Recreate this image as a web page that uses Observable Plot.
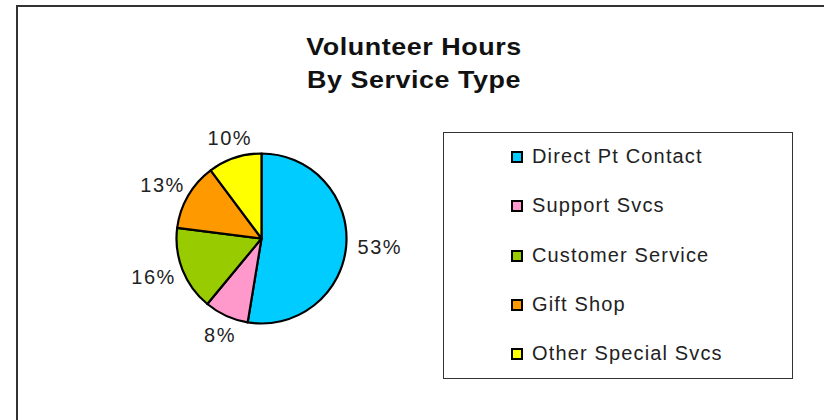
<!DOCTYPE html>
<html>
<head>
<meta charset="utf-8">
<script src="https://cdn.jsdelivr.net/npm/d3@7"></script>
<script src="https://cdn.jsdelivr.net/npm/@observablehq/plot@0.6"></script>
<style>
  html, body { margin: 0; padding: 0; background: #fff; }
  #wrap { position: relative; width: 824px; height: 420px; overflow: hidden; background: #fff;
          font-family: "Liberation Sans", Arial, sans-serif; }
  #frame { position: absolute; left: 15.5px; top: 5px; width: 1000px; height: 1000px;
           border-left: 2px solid #333; border-top: 2px solid #333; box-sizing: border-box; }
  #title { position: absolute; left: 0; top: 29.5px; width: 828px; text-align: center;
           font-weight: bold; font-size: 24px; line-height: 33px; letter-spacing: 0.5px; color: #111;
           transform: scaleX(1.12); transform-origin: 414px 0; }
  #chart { position: absolute; left: 0; top: 100px; }
  #legend { position: absolute; left: 442.5px; top: 132px; width: 350px; height: 247px;
            border: 1.5px solid #333; box-sizing: border-box; }
  .row { position: absolute; left: 0; height: 0; }
  .sw { position: absolute; width: 12px; height: 12px; border: 2px solid #000; box-sizing: border-box; }
  .lt { position: absolute; white-space: nowrap; font-size: 20px; line-height: 20px;
        letter-spacing: 1.15px; color: #222; }
</style>
</head>
<body>
<div id="wrap">
  <div id="frame"></div>
  <div id="title">Volunteer Hours<br>By Service Type</div>
  <div id="chart"></div>
  <div id="legend"></div>
</div>
<script>
// ---- data ----
const categories = ["Direct Pt Contact", "Support Svcs", "Customer Service", "Gift Shop", "Other Special Svcs"];
const shares = [52.6, 8.4, 16.0, 12.8, 10.2];   // percent of volunteer hours
const colors = ["#00CCFF", "#FF99CC", "#99CC00", "#FF9900", "#FFFF00"];

const table = categories.map((c, i) => ({category: c, value: shares[i]}));
const total = d3.sum(shares);
const arcs = d3.pie().sort(null).value(d => d.value)(table);

const colorScale = Plot.scale({color: {type: "ordinal", domain: categories, range: colors}});

// label positions (in pie units, radius = 1) derived from slice mid-angles
const R = 85;
const labels = arcs.map(a => {
  const mid = (a.startAngle + a.endAngle) / 2;
  const ux = Math.sin(mid), uy = Math.cos(mid);
  const text = Math.round(a.data.value / total * 100) + "%";
  const hw = text.length * 15.5 / 2;
  return {
    text,
    x: (1 + 10 / R) * ux + (hw / R) * ux * Math.abs(ux),
    y: (1 + 10 / R) * uy + (11 / R) * uy
  };
});

function pieMark(index, scales, values, dimensions, context) {
  const cx = scales.x(0), cy = scales.y(0), r = scales.x(1) - scales.x(0);
  const arc = d3.arc().innerRadius(0).outerRadius(r);
  const g = d3.create("svg:g").attr("transform", `translate(${cx},${cy})`);
  g.selectAll("path").data(arcs).join("path")
    .attr("d", arc)
    .attr("fill", d => colorScale.apply(d.data.category))
    .attr("stroke", "#000")
    .attr("stroke-width", 2.2)
    .attr("stroke-linejoin", "round");
  return g.node();
}

const chart = Plot.plot({
  width: 824,
  height: 320,
  margin: 0,
  style: {fontFamily: "Liberation Sans, Arial, sans-serif", background: "transparent"},
  x: {domain: [-1, 1], range: [176.5, 346.5], axis: null},
  y: {domain: [-1, 1], range: [223.5, 53.5], axis: null},
  marks: [
    pieMark,
    Plot.text(labels, {x: "x", y: "y", text: "text", fontSize: 20, fill: "#222"})
  ]
});
chart.querySelectorAll("text").forEach(t => t.setAttribute("letter-spacing", "1.5"));
document.getElementById("chart").appendChild(chart);

// ---- legend ----
const legend = document.getElementById("legend");
categories.forEach((c, i) => {
  const cyRow = 155 + i * 49.25 - 132;   // centre of row inside legend box
  const row = document.createElement("div");
  row.className = "row";
  row.style.top = cyRow + "px";
  const sw = document.createElement("div");
  sw.className = "sw";
  sw.style.left = (510 - 442.5) + "px";
  sw.style.top = "-5px";
  sw.style.background = colorScale.apply(c);
  const lt = document.createElement("div");
  lt.className = "lt";
  lt.style.left = (531 - 442.5) + "px";
  lt.style.top = "-10px";
  lt.textContent = c;
  row.appendChild(sw);
  row.appendChild(lt);
  legend.appendChild(row);
});
</script>
</body>
</html>
